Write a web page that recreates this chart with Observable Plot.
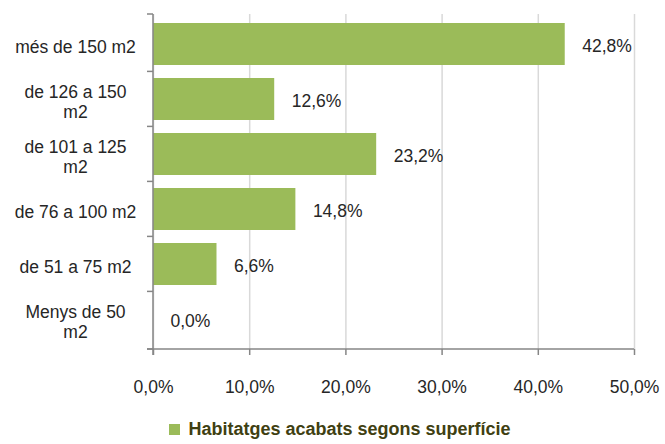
<!DOCTYPE html>
<html>
<head>
<meta charset="utf-8">
<script src="https://cdn.jsdelivr.net/npm/d3@7"></script>
<script src="https://cdn.jsdelivr.net/npm/@observablehq/plot@0.6"></script>
<style>
  html, body { margin: 0; padding: 0; background: #ffffff; }
  #wrap { width: 665px; height: 444px; overflow: hidden; position: relative; }
  #legend { width: 665px; height: 34px; display: flex; align-items: center; justify-content: center;
            padding-left: 15px; box-sizing: border-box; padding-top: 4px;
            font-family: 'Liberation Sans', Arial, sans-serif;
            font-weight: bold; font-size: 18px; color: #3f3f12; }
  #legend .sw { width: 11px; height: 11px; background: #9bbb59; margin-right: 8px; }
</style>
</head>
<body>
<div id="wrap"><div id="chart"></div><div id="legend"><span class="sw"></span><span class="lt"></span></div></div>
<script>
const categories = ["més de 150 m2", "de 126 a 150 m2", "de 101 a 125 m2", "de 76 a 100 m2", "de 51 a 75 m2", "Menys de 50 m2"];
const categoryLabels = ["més de 150 m2", "de 126 a 150\nm2", "de 101 a 125\nm2", "de 76 a 100 m2", "de 51 a 75 m2", "Menys de 50\nm2"];
const values = [42.8, 12.6, 23.2, 14.8, 6.6, 0.0];
const xTicks = [0, 10, 20, 30, 40, 50];
const seriesName = "Habitatges acabats segons superfície";

const FONT = "'Liberation Sans', Arial, sans-serif";
const FS = 17.5;
const BAR = "#9bbb59";
const AXIS = "#868686";
const GRID = "#d9d9d9";
const TEXT = "#262626";

const data = categories.map((c, i) => ({cat: c, value: values[i]}));
const labelOf = new Map(categories.map((c, i) => [c, categoryLabels[i]]));
const pct = v => d3.format(".1f")(v).replace(".", ",") + "%";

const W = 665, H = 410;
const plot = Plot.plot({
  width: W, height: H,
  marginLeft: 153, marginRight: 31, marginTop: 14, marginBottom: 61,
  style: {fontFamily: FONT, fontSize: FS + "px", color: TEXT, background: "#ffffff", overflow: "visible"},
  x: {domain: [0, 50], label: null},
  y: {domain: categories, paddingInner: 0.24, paddingOuter: 0.12, label: null, axis: null},
  marks: [
    Plot.gridX(xTicks, {stroke: GRID, strokeOpacity: 1, strokeWidth: 1.5}),
    Plot.barX(data, {x: "value", y: "cat", fill: BAR}),
    Plot.text(data, {x: "value", y: "cat", text: d => pct(d.value), textAnchor: "start", dx: 17, dy: 2, fill: TEXT, fontSize: FS}),
    Plot.axisX(xTicks, {tickFormat: pct, tickSize: 6, tickPadding: 25, stroke: AXIS, strokeWidth: 1.5, strokeOpacity: 1, fill: TEXT, fontSize: FS, label: null}),
    Plot.text(categories, {y: d => d, text: d => labelOf.get(d), frameAnchor: "left", textAnchor: "middle",
                           lineAnchor: "middle", lineHeight: 1.15, dx: -78, dy: 2, fill: TEXT, fontSize: FS,
                           ariaLabel: "category label"})
  ]
});
document.getElementById("chart").appendChild(plot);
document.querySelector("#legend .lt").textContent = seriesName;

// axis lines and between-category ticks, placed with the plot's own scales
const sy = plot.scale("y");
const sx = plot.scale("x");
const svg = d3.select(plot);
const x0 = sx.apply(0), x1 = sx.apply(50);
const yTop = sy.range[0], yBot = sy.range[1];
const g = svg.append("g").attr("stroke", AXIS).attr("stroke-width", 1.5);
const bounds = categories.map(c => sy.apply(c) - sy.paddingInner * sy.step / 2);
bounds[0] = yTop;
bounds.push(yBot);
bounds.forEach(b => g.append("line").attr("x1", x0 - 6).attr("x2", x0).attr("y1", b).attr("y2", b));
g.append("line").attr("x1", x0).attr("x2", x0).attr("y1", yTop).attr("y2", yBot + 6);
g.append("line").attr("x1", x0 - 6).attr("x2", x1).attr("y1", yBot).attr("y2", yBot);

// right-align each category label block, centring its lines within it
const R = 131;
const svgLeft = plot.getBoundingClientRect().left;
svg.selectAll('[aria-label="category label"] text').each(function() {
  const r = this.getBoundingClientRect();
  const cur = r.left - svgLeft + r.width / 2;
  const shift = (R - r.width / 2) - cur;
  this.setAttribute("transform", (this.getAttribute("transform") || "") + ` translate(${shift},0)`);
});
</script>
</body>
</html>
